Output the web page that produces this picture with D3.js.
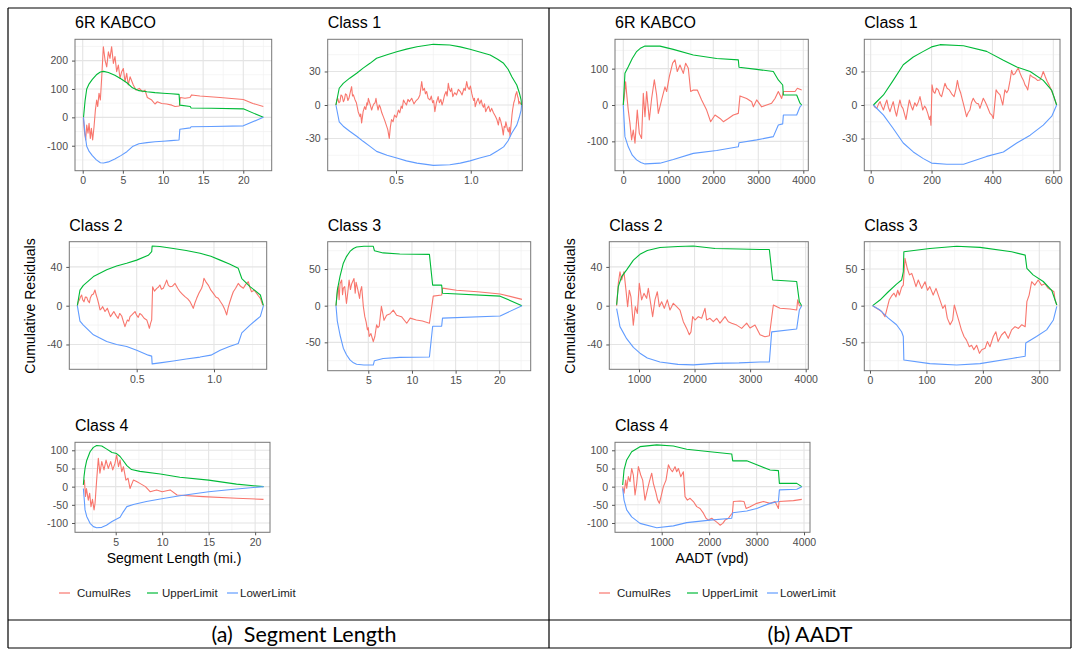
<!DOCTYPE html>
<html>
<head>
<meta charset="utf-8">
<script src="https://cdn.jsdelivr.net/npm/d3@7"></script>
<style>
  body { margin: 0; background: #fff; }
  svg { display: block; font-family: "Liberation Sans", Arial, sans-serif; }
</style>
</head>
<body>
<script>
// ---- data: [x, y] pairs ----
// (a) segment length
const lenKabcoRes = [[0.08,0],[0.2,-45],[0.37,-80],[0.5,-27],[0.66,-56],[0.79,-21],[0.95,-74],[1.08,-39],[1.24,-80],[1.41,-33],[1.58,26],[1.74,61],[1.87,38],[2.03,85],[2.2,61],[2.37,143],[2.57,249],[2.78,202],[2.99,178],[3.2,231],[3.4,208],[3.6,249],[3.82,190],[4.02,214],[4.23,161],[4.44,184],[4.65,137],[4.85,161],[5.06,172],[5.27,126],[5.48,155],[5.68,114],[5.9,143],[6.3,114],[6.64,96],[7.05,102],[7.47,90],[7.76,96],[8.05,70],[8.6,61],[9.0,47],[9.3,55],[9.83,49],[10.46,47],[11.1,43],[11.5,38],[12.03,40],[12.16,70],[12.74,67],[13.36,70],[13.57,79],[14.6,75],[17.1,70],[20.0,63],[21.2,49],[22.5,38]];
const lenKabcoUp = [[0.1,0],[0.3,60],[0.5,100],[0.8,118],[1.2,134],[1.7,150],[2.2,160],[2.6,162],[3.2,158],[4,148],[4.8,135],[5.5,122],[6.2,104],[7,94],[8,90],[9,87],[10,85],[11,83],[12,81],[12.1,43],[13.4,38],[13.5,33],[16,32],[20,30],[22.5,0]];
const lenKabcoLo = [[0.1,0],[0.3,-62],[0.5,-102],[0.8,-120],[1.2,-135],[1.7,-150],[2.2,-160],[2.6,-161],[3.2,-157],[4,-147],[4.8,-134],[5.5,-121],[6.2,-103],[7,-93],[8,-89],[9,-86],[10,-84],[11,-82],[12,-80],[12.1,-42],[13.4,-37],[13.5,-33],[16,-32],[20,-30],[22.5,0]];

const lenC1Res = [[0.098,0],[0.104,4],[0.11,6],[0.118,2],[0.125,3],[0.132,9],[0.14,8],[0.148,3],[0.155,5],[0.162,10],[0.17,9],[0.178,4],[0.185,6],[0.195,12],[0.203,16.4],[0.209,8],[0.215,9],[0.225,5],[0.235,2],[0.247,-6],[0.259,-10.4],[0.264,-8],[0.27,-16],[0.28,-6],[0.29,-1.5],[0.298,-4],[0.305,2],[0.31,0],[0.315,6],[0.326,1],[0.337,-4.5],[0.345,-1],[0.352,1],[0.36,2],[0.366,6],[0.373,0],[0.38,-4.5],[0.388,0],[0.395,-2],[0.405,-7],[0.415,-10.4],[0.425,-14],[0.435,-18],[0.445,-22],[0.455,-30],[0.462,-20],[0.47,-13],[0.48,-15],[0.49,-9],[0.503,-11],[0.516,-4.5],[0.525,-7],[0.535,-1],[0.542,-3],[0.55,4.5],[0.56,2],[0.57,0],[0.58,5],[0.59,3],[0.605,6],[0.62,1],[0.635,4],[0.65,6],[0.66,9],[0.672,20.9],[0.68,13],[0.69,15],[0.697,10],[0.705,12],[0.715,6],[0.727,4.5],[0.736,8],[0.745,2],[0.752,4],[0.76,-6],[0.77,2],[0.782,7.5],[0.79,2],[0.8,5],[0.808,0],[0.815,3],[0.825,9],[0.835,12],[0.842,8],[0.85,19.4],[0.857,14],[0.865,12],[0.872,15],[0.88,7.5],[0.892,11],[0.905,9],[0.917,14],[0.93,12],[0.942,9],[0.955,15],[0.963,13],[0.973,20.9],[0.98,16],[0.99,14],[0.998,17],[1.007,10.4],[1.013,7],[1.02,4],[1.025,6],[1.03,-1.5],[1.04,3],[1.05,6],[1.06,1],[1.07,4.5],[1.078,0],[1.085,-2],[1.092,1],[1.1,-6],[1.11,-3],[1.12,-1],[1.13,-6],[1.14,-3],[1.152,-7],[1.165,-10],[1.175,-13],[1.185,-17.9],[1.192,-11],[1.2,-14],[1.21,-20],[1.218,-26.9],[1.224,-19],[1.23,-20],[1.235,-15],[1.24,-18],[1.246,-22],[1.252,-24],[1.258,-20],[1.263,-28],[1.268,-20],[1.272,-15],[1.276,-9],[1.28,-4.5],[1.288,2],[1.295,5],[1.3,9],[1.308,12],[1.313,8],[1.318,6],[1.322,1],[1.325,3],[1.34,0]];
const lenC1Up = [[0.098,0],[0.12,15],[0.147,19.4],[0.19,24],[0.237,28.4],[0.28,33],[0.326,37.3],[0.37,41.8],[0.44,45],[0.505,47.7],[0.57,50],[0.64,52.2],[0.75,54.3],[0.86,53.7],[0.93,52],[0.995,49.9],[1.06,47.5],[1.13,44.8],[1.18,41],[1.22,37.3],[1.25,32],[1.275,25.3],[1.308,17.9],[1.325,11],[1.337,4.5],[1.34,0]];
const lenC1Lo = [[0.098,0],[0.12,-15],[0.147,-19],[0.19,-23.5],[0.237,-28],[0.28,-32.5],[0.326,-37],[0.37,-41.5],[0.44,-45],[0.505,-47.5],[0.57,-50],[0.64,-52],[0.75,-54],[0.86,-53.5],[0.93,-52],[0.995,-50],[1.06,-47.5],[1.13,-45],[1.18,-41],[1.22,-37.5],[1.25,-32],[1.275,-25],[1.308,-18],[1.325,-11],[1.337,-4.5],[1.34,0]];

const lenC2Res = [[0.116,0],[0.122,4],[0.129,5.9],[0.136,9],[0.144,11],[0.151,6],[0.159,4],[0.168,9],[0.177,8.6],[0.185,5],[0.194,3],[0.2,8],[0.209,11],[0.22,12],[0.23,16.2],[0.238,11],[0.245,7.6],[0.254,2],[0.263,-4.4],[0.272,-3],[0.28,-1],[0.295,-6],[0.31,-2.7],[0.32,-7],[0.33,-11.3],[0.34,-9],[0.352,-6],[0.366,-10],[0.38,-13],[0.39,-8],[0.403,-10.6],[0.413,-16],[0.424,-21.6],[0.432,-18],[0.44,-14.7],[0.449,-16],[0.457,-11.3],[0.472,-9],[0.489,-6],[0.5,-10],[0.51,-12],[0.52,-8],[0.532,-9.5],[0.548,-13],[0.565,-14.7],[0.574,-19],[0.582,-23.3],[0.59,-18],[0.597,-14.7],[0.603,19.6],[0.615,15],[0.63,17.9],[0.64,19],[0.65,21.3],[0.66,17],[0.672,18],[0.683,22],[0.694,26.4],[0.705,21],[0.715,19.6],[0.73,20],[0.748,23],[0.765,18],[0.78,14.4],[0.795,12],[0.812,9.3],[0.83,7],[0.845,4.1],[0.855,1],[0.866,-2.7],[0.877,3],[0.888,7.6],[0.903,13],[0.92,18],[0.928,22],[0.935,28.2],[0.95,24],[0.963,21.3],[0.98,16],[0.996,12.7],[1.012,9],[1.028,7.6],[1.042,4],[1.056,0.7],[1.07,-4],[1.082,-9.5],[1.092,-2],[1.103,4.1],[1.115,10],[1.125,14.4],[1.14,18],[1.157,23],[1.172,20],[1.19,18],[1.205,22],[1.222,24.7],[1.232,19],[1.243,14.4],[1.26,16],[1.276,12.7],[1.288,10],[1.3,7.6],[1.308,4],[1.315,0.7]];
const lenC2Up = [[0.116,0],[0.133,16],[0.155,21],[0.22,30],[0.306,37],[0.37,41],[0.435,43.7],[0.5,47],[0.575,52],[0.597,55.7],[0.6,61.5],[0.65,61],[0.737,59],[0.82,57],[0.91,54],[0.98,51],[1.04,47],[1.1,43],[1.157,38.5],[1.18,28],[1.233,19.6],[1.27,15],[1.3,11],[1.32,0]];
const lenC2Lo = [[0.116,0],[0.133,-16],[0.155,-20],[0.22,-30],[0.306,-37],[0.37,-40],[0.435,-42],[0.5,-46],[0.575,-51],[0.597,-52],[0.6,-60],[0.65,-59],[0.737,-57],[0.82,-55],[0.91,-53],[0.98,-51],[1.04,-46],[1.1,-42],[1.157,-39],[1.18,-28],[1.233,-20],[1.27,-15],[1.3,-11],[1.32,0]];

const lenC3Res = [[1.3,0],[1.42,15],[1.56,26],[1.66,8],[1.76,30],[1.95,35],[2.05,15],[2.14,24],[2.3,26],[2.5,3],[2.65,18],[2.8,35],[2.95,22],[3.1,30],[3.36,37],[3.5,17],[3.6,32],[3.8,22],[4.0,10],[4.1,20],[4.24,26],[4.43,-1],[4.6,-15],[4.75,-22],[4.9,-33],[5.0,-30],[5.1,-42],[5.3,-38],[5.57,-49],[5.75,-42],[5.95,-26],[6.1,-30],[6.25,-28],[6.5,-1],[6.65,-10],[6.8,-20],[7.1,-13],[7.5,-11],[7.86,-6],[8.24,-13],[8.8,-15],[9.4,-24],[9.8,-17],[10.5,-19.5],[11.2,-21],[12,-24],[12.44,13],[13.4,14.5],[13.5,24],[15.1,21],[17.5,19],[20.1,16],[22.6,8.6]];
const lenC3Up = [[1.3,0],[1.45,21],[1.76,40],[2.14,58],[2.5,67],[2.9,74],[3.3,78],[3.66,80],[4.5,81],[5.57,81],[5.7,75],[6.7,72],[8.6,70.5],[12,70],[12.37,28],[13.4,28],[13.5,17],[20.1,13],[22.6,0]];
const lenC3Lo = [[1.3,0],[1.45,-21],[1.76,-40],[2.14,-58],[2.5,-67],[2.9,-74],[3.3,-78],[3.66,-80],[4.5,-81],[5.57,-81],[5.7,-75],[6.7,-72],[8.6,-70.5],[12,-70],[12.37,-28],[13.4,-28],[13.5,-17],[20.1,-14],[22.6,0]];

const lenC4Res = [[1.52,5],[1.63,18],[1.75,-27],[1.85,-5],[2.05,-37],[2.2,-18],[2.34,-55],[2.5,-35],[2.67,-64],[2.78,-45],[2.95,18],[3.13,78],[3.3,37],[3.5,69],[3.74,46],[3.96,73],[4.2,50],[4.46,69],[4.68,46],[4.92,64],[5.1,87],[5.3,55],[5.47,73],[5.65,41],[5.83,55],[6.1,18],[6.33,23],[6.54,-5],[6.9,18],[7.25,14],[7.6,9],[8.2,0],[8.7,-14],[9.4,-9],[10,-14],[10.85,-9],[11.6,-23],[14.4,-27.5],[18,-32],[20.9,-35]];
const lenC4Up = [[1.52,5],[1.6,30],[1.7,50],[1.88,72],[2.24,96],[2.6,108],[2.95,113],[3.5,112],[4.0,104],[4.6,94],[5.1,91],[5.47,83],[5.8,72],[6.2,58],[6.7,47],[7.6,42],[9.8,35],[11.9,26],[15,18],[18,7],[20.9,0]];
const lenC4Lo = [[1.52,-5],[1.6,-30],[1.7,-64],[1.88,-82],[2.24,-101],[2.6,-110],[2.95,-113],[3.5,-112],[4.0,-106],[4.6,-96],[4.9,-92],[5.47,-84],[5.8,-70],[6.2,-55],[6.9,-49],[8.3,-41],[9.8,-34],[11.9,-25],[15,-14],[18,-6.4],[20.9,0]];

// (b) AADT
const aadtKabcoRes = [[0,0],[22,23],[52,64],[74,32],[111,-14],[148,-50],[185,-96],[222,-69],[260,-105],[311,-14],[356,-78],[407,-92],[445,32],[482,-32],[519,37],[578,-41],[630,18],[690,69],[741,27.5],[778,-23],[852,14],[926,50],[963,37],[1023,78],[1097,115],[1149,124],[1200,92],[1260,110],[1334,87],[1386,115],[1445,101],[1497,37],[1556,41],[1645,41],[1741,14],[1852,-14],[1941,-46],[2038,-27.5],[2149,-37],[2223,-46],[2334,-37],[2445,-27.5],[2556,-23],[2593,25],[2741,18],[2853,9],[2890,-5],[2964,14],[3075,-5],[3186,0],[3297,5],[3371,18],[3445,37],[3519,18],[3557,37],[3816,37],[3868,46],[3964,41]];
const aadtKabcoUp = [[0,0],[37,87],[111,105],[200,128],[296,147],[390,157],[482,162],[815,162],[1111,153],[1556,137.5],[2075,128],[2556,124],[2571,104],[2964,98],[3334,92],[3445,69],[3542,55],[3557,27.5],[3853,27.5],[3927,5],[3964,0]];
const aadtKabcoLo = [[0,0],[37,-87],[111,-115],[200,-138],[296,-151],[390,-158],[482,-162],[815,-160],[1111,-150],[1556,-133],[2075,-125],[2556,-115],[2571,-104],[2964,-96],[3334,-87],[3445,-55],[3542,-52],[3557,-27.5],[3853,-27.5],[3927,-5],[3964,0]];

const aadtC1Res = [[9,0],[14,-2],[20,-3],[26,1],[31,3],[36,-1],[42,-4.5],[47,0],[53,4.5],[58,-2],[63.5,-6],[69,-1],[74,3],[80,-5],[85,-10],[90,-3],[96,4.5],[101,-1],[106,-3],[111,-8],[116,-13],[122,-3],[127,4.5],[133,-1],[138,-4.5],[145,2],[151,-1],[157,3],[162,7.5],[167,1],[171,-4.5],[177,-1],[182,-3],[188,-8],[193,-13],[196,-10],[198,-18],[201.5,18],[206,12],[211,10.5],[216,15],[222,13.5],[228,9],[233,7.5],[239,14],[244,19.4],[251,15],[258.5,13.5],[266,10],[274,7.5],[280,14],[285,22],[290,15],[296,10.5],[302,4],[307,-1.5],[311,-6],[315,-10.5],[320,-7],[326,-4.5],[331,2],[337,6],[343,3],[348,1.5],[354,1],[359,-3],[365,2],[370,6],[376,3],[381,0],[387,-4],[392,-7.5],[398,-9],[403,-12],[408,2],[412,13.5],[418,11],[425,9],[430,4],[434,0],[438,8],[441,13.5],[447,11],[452,13.5],[458,22],[463,31],[468,27],[474,28],[480,31],[485,33],[490,29],[496,25],[502,22],[507,18],[512,16],[516,13.5],[520,20],[524,27],[532,25],[540,24],[548,22],[556,22.4],[562,26],[567,30],[574,25],[580,21],[586,18],[591,15],[597,11],[602,7.5],[606,4],[611,0]];
const aadtC1Up = [[9,0],[42,9],[74,22],[107,36],[140,43],[173,48],[200,52],[228,54],[305,53],[381,48],[436,40],[480,34],[524,30],[567,22],[595,13],[611,0]];
const aadtC1Lo = [[9,0],[42,-9],[74,-21],[107,-34],[140,-42],[173,-48],[200,-52],[250,-53],[305,-53],[381,-46],[436,-42],[480,-34],[524,-27],[567,-18],[595,-10],[611,0]];

const aadtC2Res = [[598,0],[628,23],[658,35],[688,26.5],[730,35],[766,16],[796,-1],[826,16],[856,9],[898,-20],[934,-1],[970,-8],[1006,23],[1048,6],[1090,12.7],[1138,7.6],[1168,18],[1210,2.4],[1246,-11.3],[1288,6],[1330,14.4],[1366,-1],[1408,4],[1456,-2.7],[1510,6],[1558,-4.5],[1618,2.4],[1678,-1],[1738,-4.5],[1798,-16.5],[1858,-23.4],[1906,-30],[1936,-27],[1966,-11.3],[2008,-14.8],[2068,-11.3],[2128,-13],[2188,-2.7],[2218,-14.8],[2278,-13],[2338,-16.5],[2398,-13],[2458,-18],[2548,-11.3],[2608,-16.5],[2668,-18],[2758,-20],[2848,-23.4],[2938,-18],[2998,-23],[3088,-20],[3178,-30],[3268,-32],[3346,-31],[3418,0.7],[3538,-2.7],[3718,-3.4],[3838,-4.5],[3856,6],[3886,0],[3928,0]];
const aadtC2Up = [[598,1],[628,19.6],[688,30],[778,37],[900,47],[1018,53],[1150,57],[1378,60],[1700,61],[1978,61.5],[2368,59],[2800,58.5],[3178,58],[3346,58],[3406,26.5],[3838,25],[3886,4],[3928,0]];
const aadtC2Lo = [[598,-3],[628,-12],[658,-21.6],[778,-34],[900,-43],[1018,-49],[1150,-54],[1378,-58],[1700,-60.5],[1978,-61],[2368,-59.5],[2800,-59],[3178,-58],[3346,-58],[3388,-27],[3838,-24],[3886,-4.5],[3928,0]];

const aadtC3Res = [[4.7,0],[11.8,-3.6],[20.7,-8],[26.6,-15],[29.5,-6],[34,7.7],[38,13],[42.5,17],[46,12],[49,21],[52,14.5],[56,25],[59,28],[62,64.5],[66,51],[70,42],[74,44],[78,35],[81.5,26],[85.6,35],[91.5,23.6],[97.5,32.7],[102,21],[106,26],[112,14.5],[117,23.6],[123,10],[129,-3.6],[133,1],[137,-17],[142,-26],[146.5,-19.5],[149.4,1],[153.6,-10.5],[158,-22],[162,-33],[166.6,-42],[171,-47],[176,-56],[180,-54],[184,-60],[189,-54],[194,-65],[198,-60],[204,-58],[208,-49],[212.6,-56],[218.5,-42],[223,-35.5],[227,-49],[233,-40],[239,-35.5],[245,-44.5],[251,-33],[257,-28.6],[263,-31],[269,-26],[275,-28.6],[278,5.5],[282,14.5],[286.5,32.7],[292,28],[298,35],[304,28],[310,30],[316,23.6],[322,21],[326,19],[328,7.7],[331,1]];
const aadtC3Up = [[4.7,0],[17.7,7.7],[32.5,19],[47,29.5],[56,35],[59,46],[60,73.6],[106,78],[153.6,81],[195,79.5],[251,73.6],[275,69],[278,51],[289,42],[307,33],[322,21],[331,1]];
const aadtC3Lo = [[4.7,0],[17.7,-6],[32.5,-17],[47,-26],[56,-35.5],[59,-42],[60,-74],[106,-79],[153.6,-81],[195,-79],[251,-72],[275,-69],[276,-51],[295,-42],[313,-33],[325,-19.5],[331,-1]];

const aadtC4Res = [[177,0],[206,-18],[241,18],[262,-4.6],[297,27.5],[332,14],[367,50],[402,32],[438,-23],[473,9],[508,55],[557,32],[599,18],[648,-37],[698,-9],[740,14],[789,37],[824,9],[873,-14],[915,-37],[950,-46],[986,-27.5],[1035,0],[1091,18],[1141,60],[1176,50],[1225,41],[1281,55],[1316,41],[1352,50],[1401,27.5],[1457,41],[1492,-27.5],[1541,-37],[1598,-32],[1668,-41],[1738,-55],[1808,-60],[1879,-73],[1935,-87],[1984,-92],[2055,-87],[2125,-94],[2174,-99],[2230,-106],[2287,-101],[2336,-92],[2406,-87],[2455,-78],[2490,-73],[2511,-41],[2652,-39.5],[2736,-41],[2779,-60],[2863,-55],[3004,-46],[3144,-41],[3285,-46],[3390,-41],[3460,-60],[3474,-41],[3777,-38.5],[3953,-35]];
const aadtC4Up = [[177,4.6],[206,46],[262,73.5],[367,96],[543,110],[895,115],[1246,112],[1527,103],[2019,96],[2476,90],[2497,71],[2793,71],[3004,60],[3285,46],[3460,44],[3481,9],[3847,9],[3953,0]];
const aadtC4Lo = [[177,-4.6],[206,-37],[262,-64],[367,-83],[543,-101],[895,-113],[1246,-108],[1527,-99],[2019,-92],[2476,-87],[2497,-72],[2793,-67],[3004,-60],[3285,-46],[3460,-41],[3481,-9],[3847,-7],[3953,0]];

const seriesNames = ["CumulRes", "UpperLimit", "LowerLimit"];
const seriesColors = ["#F8766D", "#00BA38", "#619CFF"];
const captions = ["(a)  Segment Length", "(b) AADT"];
const xTitles = ["Segment Length (mi.)", "AADT (vpd)"];

const fmtInt = v => String(v);
const fmtOne = v => v.toFixed(1);

// layout: box = [left, top, right, bottom] in px
const panels = [
  {title: "6R KABCO", box: [75, 39.3, 271.7, 170.7], xd: [-0.96, 23.54], yd: [-188, 275],
   xt: [0, 5, 10, 15, 20], yt: [-100, 0, 100, 200], fx: fmtInt, lines: [lenKabcoRes, lenKabcoUp, lenKabcoLo]},
  {title: "Class 1", box: [327.7, 39.3, 522.3, 170.7], xd: [0.043, 1.345], yd: [-58.8, 58.8],
   xt: [0.5, 1.0], yt: [-30, 0, 30], fx: fmtOne, lines: [lenC1Res, lenC1Up, lenC1Lo]},
  {title: "Class 2", box: [69.3, 241.7, 266.7, 369.3], xd: [0.064, 1.341], yd: [-65.6, 66],
   xt: [0.5, 1.0], yt: [-40, 0, 40], fx: fmtOne, lines: [lenC2Res, lenC2Up, lenC2Lo]},
  {title: "Class 3", box: [327.7, 241.7, 530.7, 370.7], xd: [0.35, 23.6], yd: [-88.7, 87.3],
   xt: [5, 10, 15, 20], yt: [-50, 0, 50], fx: fmtInt, lines: [lenC3Res, lenC3Up, lenC3Lo]},
  {title: "Class 4", box: [75, 442.3, 270, 532.3], xd: [0.62, 21.6], yd: [-125.6, 122],
   xt: [5, 10, 15, 20], yt: [-100, -50, 0, 50, 100], fx: fmtInt, lines: [lenC4Res, lenC4Up, lenC4Lo]},
  {title: "6R KABCO", box: [615, 39.3, 808.3, 170.7], xd: [-184, 4111], yd: [-180.7, 180.7],
   xt: [0, 1000, 2000, 3000, 4000], yt: [-100, 0, 100], fx: fmtInt, lines: [aadtKabcoRes, aadtKabcoUp, aadtKabcoLo]},
  {title: "Class 1", box: [864.3, 39.3, 1060, 170.7], xd: [-21, 622], yd: [-58.8, 58.8],
   xt: [0, 200, 400, 600], yt: [-30, 0, 30], fx: fmtInt, lines: [aadtC1Res, aadtC1Up, aadtC1Lo]},
  {title: "Class 2", box: [609.3, 241.7, 808.3, 369.3], xd: [466, 4047], yd: [-65.6, 66],
   xt: [1000, 2000, 3000, 4000], yt: [-40, 0, 40], fx: fmtInt, lines: [aadtC2Res, aadtC2Up, aadtC2Lo]},
  {title: "Class 3", box: [864.3, 241.7, 1060, 370.7], xd: [-10.1, 336.7], yd: [-88.7, 87.3],
   xt: [0, 100, 200, 300], yt: [-50, 0, 50], fx: fmtInt, lines: [aadtC3Res, aadtC3Up, aadtC3Lo]},
  {title: "Class 4", box: [615, 442.3, 810, 532.3], xd: [15.4, 4126], yd: [-125.6, 122],
   xt: [1000, 2000, 3000, 4000], yt: [-100, -50, 0, 50, 100], fx: fmtInt, lines: [aadtC4Res, aadtC4Up, aadtC4Lo]}
];

let svg = d3.select("body").append("svg")
            .attr("width", 1073)
            .attr("height", 650);

// minor breaks halfway between majors
function minors(ticks, dom) {
  let s = ticks.length > 1 ? ticks[1] - ticks[0] : 1;
  let m = [ticks[0] - s / 2].concat(ticks.map(t => t + s / 2));
  return m.filter(v => v > dom[0] && v < dom[1]);
}

panels.forEach(p => {
  let [L, T, R, B] = p.box;
  let x = d3.scaleLinear().domain(p.xd).range([L, R]);
  let y = d3.scaleLinear().domain(p.yd).range([B, T]);
  let g = svg.append("g");

  g.append("rect").attr("x", L).attr("y", T).attr("width", R - L).attr("height", B - T).attr("fill", "#fff");

  // grid
  g.selectAll(".mx").data(minors(p.xt, p.xd)).enter().append("line")
   .attr("x1", d => x(d)).attr("x2", d => x(d)).attr("y1", T).attr("y2", B)
   .attr("stroke", "#f0f0f0").attr("stroke-width", 0.7);
  g.selectAll(".my").data(minors(p.yt, p.yd)).enter().append("line")
   .attr("y1", d => y(d)).attr("y2", d => y(d)).attr("x1", L).attr("x2", R)
   .attr("stroke", "#f0f0f0").attr("stroke-width", 0.7);
  g.selectAll(".gx").data(p.xt).enter().append("line")
   .attr("x1", d => x(d)).attr("x2", d => x(d)).attr("y1", T).attr("y2", B)
   .attr("stroke", "#e4e4e4").attr("stroke-width", 1.1);
  g.selectAll(".gy").data(p.yt).enter().append("line")
   .attr("y1", d => y(d)).attr("y2", d => y(d)).attr("x1", L).attr("x2", R)
   .attr("stroke", "#e4e4e4").attr("stroke-width", 1.1);

  // series
  let line = d3.line().x(d => x(d[0])).y(d => y(d[1]));
  p.lines.forEach((pts, i) => {
    g.append("path").datum(pts)
     .attr("d", line)
     .attr("fill", "none")
     .attr("stroke", seriesColors[i])
     .attr("stroke-width", 1.1)
     .attr("stroke-linejoin", "round");
  });

  g.append("rect").attr("x", L).attr("y", T).attr("width", R - L).attr("height", B - T)
   .attr("fill", "none").attr("stroke", "#777").attr("stroke-width", 1);

  // axes
  let ax = g.append("g").attr("transform", `translate(0,${B})`)
            .call(d3.axisBottom(x).tickValues(p.xt).tickFormat(p.fx).tickSize(3).tickPadding(3));
  let ay = g.append("g").attr("transform", `translate(${L},0)`)
            .call(d3.axisLeft(y).tickValues(p.yt).tickFormat(fmtInt).tickSize(3).tickPadding(4));
  [ax, ay].forEach(a => {
    a.select(".domain").remove();
    a.selectAll("line").attr("stroke", "#555");
    a.selectAll("text").attr("fill", "#4d4d4d")
     .style("font-size", "10.5px").style("font-family", "'Liberation Sans', Arial, sans-serif");
  });

  g.append("text").attr("x", L).attr("y", T - 11)
   .style("font-size", "16px").attr("fill", "#000").text(p.title);
});

// axis titles, legends, captions for both halves
[0, 540].forEach((off, k) => {
  svg.append("text")
     .attr("transform", `translate(${35 + off},306) rotate(-90)`)
     .attr("text-anchor", "middle")
     .style("font-size", "14px")
     .text("Cumulative Residuals");

  svg.append("text")
     .attr("x", k === 0 ? 174 : 712).attr("y", 563)
     .attr("text-anchor", "middle")
     .style("font-size", "14px")
     .text(xTitles[k]);

  let lx = [59, 147, 227];
  let tx = [77, 162, 240];
  seriesNames.forEach((nm, i) => {
    svg.append("line").attr("x1", lx[i] + off).attr("x2", lx[i] + 11 + off)
       .attr("y1", 593).attr("y2", 593)
       .attr("stroke", seriesColors[i]).attr("stroke-width", 1.2);
    svg.append("text").attr("x", tx[i] + off).attr("y", 597)
       .style("font-size", "11.5px").attr("fill", "#222").text(nm);
  });
});

// table frame
let frame = svg.append("g").attr("stroke", "#000").attr("stroke-width", 1.2);
[[8, 8, 1071, 8], [8, 620, 1071, 620], [8, 648, 1071, 648],
 [8, 8, 8, 648], [549, 8, 549, 648], [1071, 8, 1071, 648]].forEach(s => {
  frame.append("line").attr("x1", s[0]).attr("y1", s[1]).attr("x2", s[2]).attr("y2", s[3]);
});

svg.append("text").attr("x", 304).attr("y", 642).attr("text-anchor", "middle")
   .style("font-family", "Lato, 'Open Sans', sans-serif").style("font-size", "21.5px")
   .style("white-space", "pre")
   .text(captions[0]);
svg.append("text").attr("x", 810).attr("y", 642).attr("text-anchor", "middle")
   .style("font-family", "Lato, 'Open Sans', sans-serif").style("font-size", "21.5px")
   .text(captions[1]);
</script>
</body>
</html>
